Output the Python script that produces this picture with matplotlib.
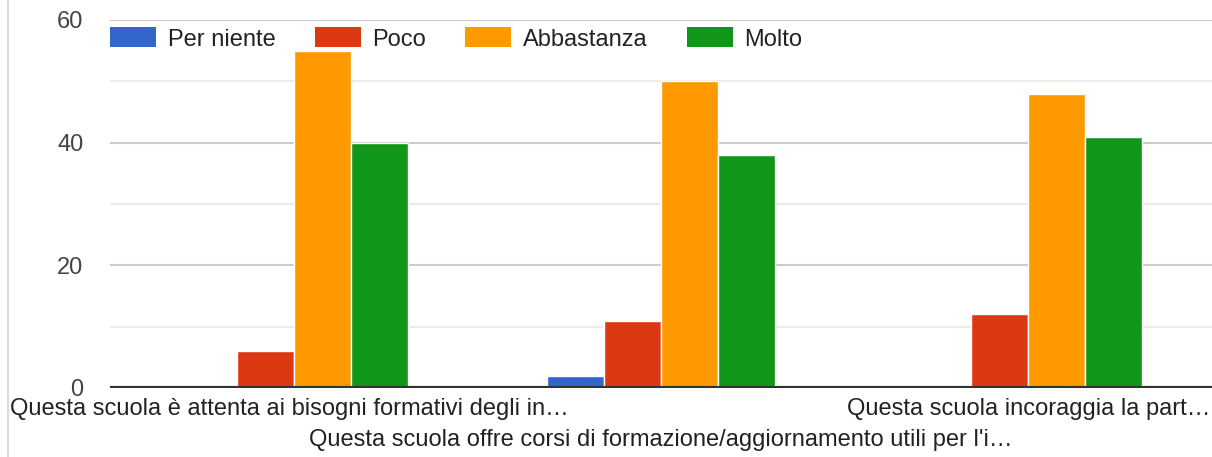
import numpy as np
import matplotlib.pyplot as plt
from matplotlib.patches import Patch
from matplotlib.lines import Line2D

plt.rcParams['font.family'] = ['Liberation Sans', 'DejaVu Sans']

categorie = [
    "Questa scuola è attenta ai bisogni formativi degli in…",
    "Questa scuola offre corsi di formazione/aggiornamento utili per l'i…",
    "Questa scuola incoraggia la part…",
]
serie = ["Per niente", "Poco", "Abbastanza", "Molto"]
per_niente = [0, 2, 0]
poco = [6, 11, 12]
abbastanza = [55, 50, 48]
molto = [40, 38, 41]
colori = ["#3366cc", "#dc3912", "#ff9900", "#109618"]

valori = [per_niente, poco, abbastanza, molto]
fs = 17

fig = plt.figure(figsize=(12.12, 4.57), dpi=100)
ax = fig.add_axes([110 / 1212, 69 / 457, 1 - 110 / 1212, 368 / 457])

x = np.arange(len(categorie))
larghezza = 0.155
for i, (nome, vals, col) in enumerate(zip(serie, valori, colori)):
    ax.bar(x + (i - 1.5) * larghezza, vals, larghezza, color=col,
           edgecolor='white', linewidth=1, zorder=3, label=nome)

ax.set_xlim(-0.5, 2.5)
ax.set_ylim(0, 60)
ax.set_yticks([0, 20, 40, 60])
ax.set_yticks([10, 30, 50], minor=True)
ax.grid(axis='y', which='major', color='#cccccc', linewidth=1.5, zorder=0)
ax.grid(axis='y', which='minor', color='#ebebeb', linewidth=1.5, zorder=0)
ax.axhline(0, color='#333333', linewidth=3, zorder=4)
for s in ax.spines.values():
    s.set_visible(False)
ax.tick_params(axis='y', which='both', length=0, labelsize=fs,
               labelcolor='#444444', pad=19)
ax.tick_params(axis='x', length=0)
ax.set_xticks([])

# etichette categorie su due righe come nell'originale
ax.annotate(categorie[0], xy=(0, 0), xycoords='data', xytext=(10, 457 - 409),
            textcoords='figure pixels', ha='left', va='center',
            fontsize=fs, color='#222222', annotation_clip=False)
ax.annotate(categorie[1], xy=(1, 0), xycoords='data', xytext=(0, -52),
            textcoords='offset pixels', ha='center', va='center',
            fontsize=fs, color='#222222', annotation_clip=False)
ax.annotate(categorie[2], xy=(2, 0), xycoords='data', xytext=(0, -21),
            textcoords='offset pixels', ha='center', va='center',
            fontsize=fs, color='#222222', annotation_clip=False)

handles = [Patch(facecolor=c, edgecolor='none') for c in colori]
leg = ax.legend(handles, serie, ncol=4, loc='center left',
                bbox_to_anchor=(110 / 1212, 1 - 39 / 457),
                bbox_transform=fig.transFigure, frameon=False,
                fontsize=fs, handlelength=1.95, handleheight=0.93,
                handletextpad=0.5, columnspacing=1.65, borderpad=0,
                borderaxespad=0)
for t in leg.get_texts():
    t.set_color('#222222')

fig.add_artist(Line2D([8 / 1212, 8 / 1212], [0, 1], color='#dadce0',
                      linewidth=1.5, transform=fig.transFigure))

fig.savefig('out.png', dpi=100)
